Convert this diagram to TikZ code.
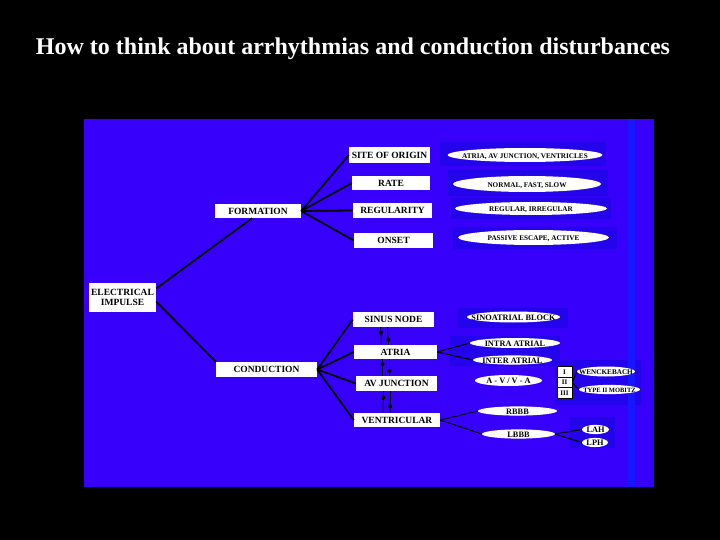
\documentclass[tikz,border=0pt]{standalone}
\usepackage{fontspec}
\setmainfont{Liberation Serif}
\usetikzlibrary{shapes.geometric}
\definecolor{panelblue}{RGB}{55,0,250}
\definecolor{patchblue}{RGB}{36,4,234}
\definecolor{stripeblue}{RGB}{22,22,255}
\begin{document}
\begin{tikzpicture}[x=1pt,y=-1pt,
    wh/.style 2 args={minimum width=#1, minimum height=#2},
    box/.style={fill=white, inner sep=0pt, align=center, font=\fontsize{9.5}{10}\selectfont\bfseries},
    oval/.style={ellipse, fill=white, inner sep=0pt, text height=6.5pt, text depth=0pt,
        font=\fontsize{8.3}{8.3}\selectfont\bfseries,
        execute at begin node={\hbox to 0pt\bgroup\hss}, execute at end node={\hss\egroup}},
    cell/.style={draw=black, fill=white, line width=0.6pt, inner sep=0pt, minimum width=15, minimum height=10.5,
        font=\fontsize{7}{7}\selectfont\bfseries},
    branch/.style={draw=black, line width=1.8pt},
    twig/.style={draw=black, line width=1pt},
    dot/.style={circle, fill=black, inner sep=0pt, minimum size=4}]
    \fill[black] (0,0) rectangle (720,540);
    \useasboundingbox (0,0) rectangle (720,540);
    \fill[panelblue] (84,119) rectangle (654,487);
    \foreach \xa/\ya/\xb/\yb in {440/142/606/166,448/170/608/196,451/198/611/219,453/227/617/249,
                                 458/308/568/328,450/336/560/366,555/360/641/405,570/417/615/448}
    {
        \fill[patchblue] (\xa,\ya) rectangle (\xb,\yb);
    }
    \fill[stripeblue] (628,119) rectangle (635,487);
    \node[text=white, font=\fontsize{24}{26}\selectfont\bfseries] (title) at (353,49) {How to think about arrhythmias and conduction disturbances};

    \node[box, wh={67}{29}] (impulse) at (122.5,297.5) {ELECTRICAL\\IMPULSE};
    \node[box, wh={86}{14}] (formation) at (258,211) {FORMATION};
    \node[box, wh={101}{15}] (conduction) at (266.5,369.5) {CONDUCTION};
    \node[box, wh={81}{16}] (site) at (389.5,155) {SITE OF ORIGIN};
    \node[box, wh={78}{14}] (rate) at (391,183) {RATE};
    \node[box, wh={79}{15}] (regularity) at (392.5,210.5) {REGULARITY};
    \node[box, wh={79}{15}] (onset) at (393.5,240.5) {ONSET};
    \node[box, wh={81}{15}] (sinus) at (393.5,319.5) {SINUS NODE};
    \node[box, wh={83}{14}] (atria) at (395.5,352) {ATRIA};
    \node[box, wh={81}{15}] (avjunction) at (396.5,383.5) {AV JUNCTION};
    \node[box, wh={86}{14}] (ventricular) at (397,420) {VENTRICULAR};

    \node[oval, wh={155}{14}, font=\fontsize{7.2}{7.2}\selectfont\bfseries] (places) at (525,155) {ATRIA, AV JUNCTION, VENTRICLES};
    \node[oval, wh={148}{16}, font=\fontsize{7.2}{7.2}\selectfont\bfseries] (speeds) at (527,184) {NORMAL, FAST, SLOW};
    \node[oval, wh={152}{13}, font=\fontsize{7.2}{7.2}\selectfont\bfseries] (rhythms) at (531,208.5) {REGULAR, IRREGULAR};
    \node[oval, wh={151}{15}, font=\fontsize{7.2}{7.2}\selectfont\bfseries] (starts) at (533.5,237.5) {PASSIVE ESCAPE, ACTIVE};

    \node[oval, wh={93}{11}] (sablock) at (513.5,317) {SINOATRIAL BLOCK};
    \node[oval, wh={90}{10}] (intra) at (515,343) {INTRA ATRIAL};
    \node[oval, wh={79}{8}] (inter) at (512.5,360) {INTER ATRIAL};
    \node[oval, wh={67}{11}] (avva) at (508.5,380.5) {A - V / V - A};
    \node[oval, wh={79}{8}] (rbbb) at (517.5,411) {RBBB};
    \node[oval, wh={73}{8}] (lbbb) at (518.5,434) {LBBB};
    \node[oval, wh={58}{10}, font=\fontsize{7.2}{7.2}\selectfont\bfseries] (wenck) at (606,371.5) {WENCKEBACH};
    \node[oval, wh={61}{8}, font=\fontsize{6.5}{6.5}\selectfont\bfseries] (mobitz) at (609.5,389.5) {TYPE II MOBITZ};
    \node[oval, wh={27}{9}] (lah) at (595.5,429.5) {LAH};
    \node[oval, wh={26}{9}] (lph) at (595,442.5) {LPH};
    \foreach \r [count=\i] in {I,II,III}
        \node[cell] (t\i) at (564.5,361.5+\i*10.5) {\r};

    \draw[branch] ([yshift=9pt]impulse.east) -- ([xshift=-6pt]formation.south);
    \draw[branch] ([yshift=-4pt]impulse.east) -- (conduction.north west);
    \foreach \b in {site,rate,regularity,onset}
        \draw[branch] (formation.east) -- (\b.west);
    \foreach \b in {sinus,atria,avjunction,ventricular}
        \draw[branch] (conduction.east) -- (\b.west);
    \foreach \a/\b in {sinus/atria,atria/avjunction,avjunction/ventricular}
    {
        \draw[twig] ([xshift=-13pt]\a.south) -- node[pos=.3,dot]{} ([xshift=-14pt]\b.north);
        \draw[twig] ([xshift=-6pt]\a.south) -- node[pos=.7,dot]{} ([xshift=-7pt]\b.north);
    }
    \draw[twig] (atria.east) -- (intra.west);
    \draw[twig] (atria.east) -- (inter.west);
    \draw[twig] (ventricular.east) -- (rbbb.west);
    \draw[twig] (ventricular.east) -- (lbbb.west);
    \draw[twig] (lbbb.east) -- (lah.west);
    \draw[twig] (lbbb.east) -- (lph.west);
    \draw[twig] (t2.east) -- (wenck.west);
    \draw[twig] (t2.east) -- (mobitz.west);
\end{tikzpicture}
\end{document}
